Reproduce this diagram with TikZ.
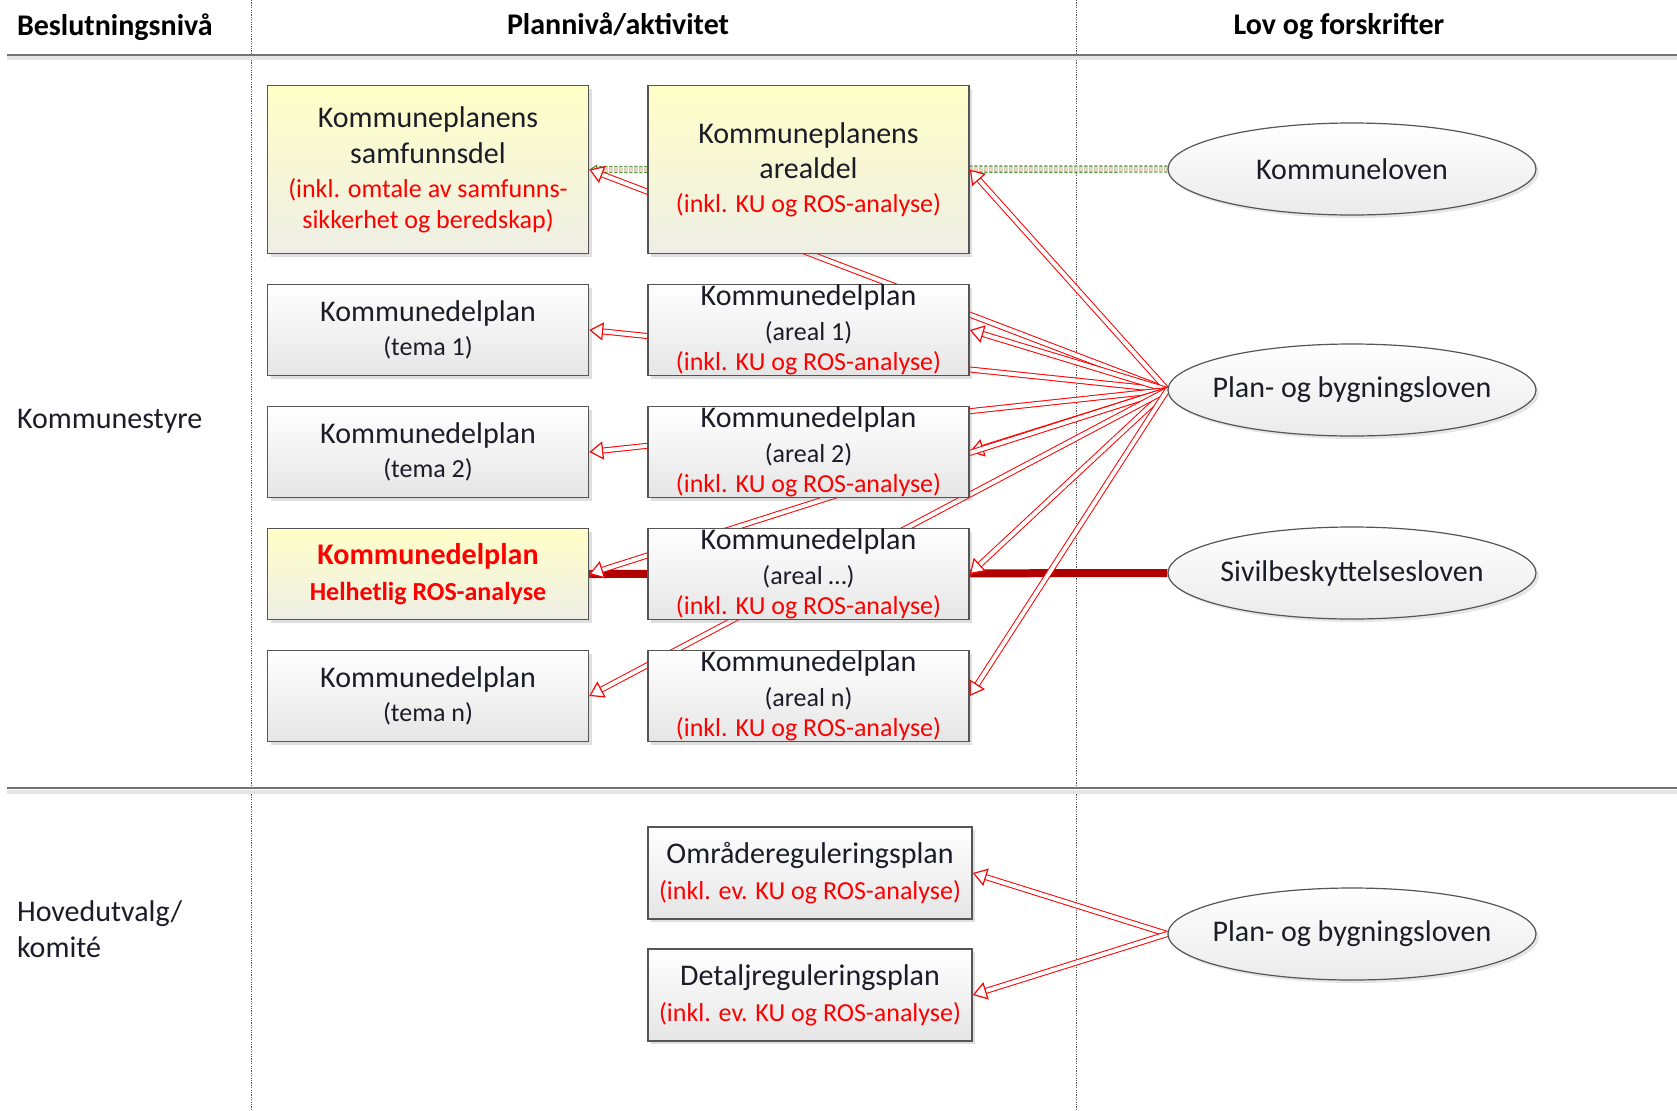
\documentclass[tikz,border=0pt]{standalone}
\usepackage{fontspec}
\setmainfont{Carlito}
\usetikzlibrary{arrows.meta,shapes.geometric,shadows,backgrounds}
\definecolor{kant}{RGB}{85,85,85}
\definecolor{tekst}{RGB}{28,28,40}
\definecolor{mork}{RGB}{176,0,0}
\definecolor{gronn}{RGB}{70,150,55}
\definecolor{rosa}{RGB}{245,212,198}
\definecolor{gultopp}{RGB}{255,255,200}
\definecolor{gulbunn}{RGB}{238,238,230}
\newcommand{\merk}[1]{{\color{red}\fontsize{13}{15}\selectfont #1}}
\newcommand{\liten}[1]{{\fontsize{13}{15}\selectfont #1}}
\tikzset{
  boks/.style={draw=kant, line width=0.7pt, top color=white, bottom color=black!10,
    minimum width=160.5pt, minimum height=45.5pt, inner xsep=2pt, inner ysep=0pt, align=center,
    text=tekst, font=\fontsize{15}{18}\selectfont,
    drop shadow={shadow xshift=1.5pt, shadow yshift=-1.5pt, opacity=0.25}},
  gul/.style={boks, top color=gultopp, bottom color=gulbunn},
  lov/.style={ellipse, draw=kant, line width=0.6pt, top color=white, bottom color=black!8,
    minimum width=184pt, minimum height=46pt, inner xsep=-30pt, inner ysep=0pt,
    text=tekst, font=\fontsize{15}{18}\selectfont,
    drop shadow={shadow xshift=1.5pt, shadow yshift=-1.5pt, opacity=0.2}},
  tittel/.style={font=\bfseries\fontsize{15}{18}\selectfont, text=black},
  pil/.style={draw=red, line width=0.5pt, double=white, double distance=2pt,
    -{Triangle[open, fill=white, length=7pt, width=9pt, line width=0.6pt]}},
  klpil/.style={draw=gronn, line width=0.6pt, dash pattern=on 1.5pt off 1pt,
    double=rosa, double distance=2.5pt, -{Triangle[open, length=4pt, width=5pt]}},
  sblinje/.style={draw=mork, line width=4pt},
  kol/.style={draw=black!65, line width=0.4pt, dash pattern=on 0.6pt off 0.6pt},
  rad/.style={draw=black!55, line width=1pt}
}
\begin{document}
\begin{tikzpicture}[x=0.5pt,y=-0.5pt]
\useasboundingbox (0,0) rectangle (1677,1110);
\node[tittel, anchor=west] (hniva) at (10,27) {Beslutningsnivå};
\node[tittel] (hplan) at (618,24.5) {Plannivå/aktivitet};
\node[tittel] (hlov) at (1339,26.5) {Lov og forskrifter};
\node[anchor=west, text=tekst, font=\fontsize{15}{18}\selectfont] (kstyre) at (10,421) {Kommunestyre};
\node[anchor=west, align=left, text=tekst, font=\fontsize{15}{18}\selectfont] (hutv) at (10,929) {Hovedutvalg/\\komité};

\node[gul, minimum height=84pt] (samf) at (428,169.5) {Kommuneplanens\\samfunnsdel\\[-1pt]\merk{(inkl. omtale av samfunns-}\\[-2.5pt]\merk{sikkerhet og beredskap)}};
\node[gul, minimum height=84pt] (areal0) at (808.5,169.5) {Kommuneplanens\\[-0.5pt]arealdel\\[-1pt]\merk{(inkl. KU og ROS-analyse)}};
\node[boks] (tema1) at (428,330) {Kommunedelplan\\[-1pt]\liten{(tema 1)}};
\node[boks] (areal1) at (808.5,330) {Kommunedelplan\\[-0.5pt]\liten{(areal 1)}\\[-3pt]\merk{(inkl. KU og ROS-analyse)}};
\node[boks] (tema2) at (428,452) {Kommunedelplan\\[-1pt]\liten{(tema 2)}};
\node[boks] (areal2) at (808.5,452) {Kommunedelplan\\[-0.5pt]\liten{(areal 2)}\\[-3pt]\merk{(inkl. KU og ROS-analyse)}};
\node[gul, text=red, font=\bfseries\fontsize{15}{18}\selectfont] (ros) at (428,574) {Kommunedelplan\\\liten{Helhetlig ROS-analyse}};
\node[boks] (areal3) at (808.5,574) {Kommunedelplan\\[-0.5pt]\liten{(areal \dots)}\\[-3pt]\merk{(inkl. KU og ROS-analyse)}};
\node[boks] (teman) at (428,696) {Kommunedelplan\\[-1pt]\liten{(tema n)}};
\node[boks] (arealn) at (808.5,696) {Kommunedelplan\\[-0.5pt]\liten{(areal n)}\\[-3pt]\merk{(inkl. KU og ROS-analyse)}};
\node[boks, minimum width=162pt, minimum height=46pt] (omr) at (810,873) {Områdereguleringsplan\\\merk{(inkl. ev. KU og ROS-analyse)}};
\node[boks, minimum width=162pt, minimum height=46pt] (detalj) at (810,995) {Detaljreguleringsplan\\\merk{(inkl. ev. KU og ROS-analyse)}};

\node[lov] (kl) at (1352,169) {Kommuneloven};
\node[lov] (pbl) at (1352,390) {Plan- og bygningsloven};
\node[lov] (sivil) at (1352,573) {Sivilbeskyttelsesloven};
\node[lov] (pbl2) at (1352,934) {Plan- og bygningsloven};

\begin{scope}[on background layer]
\draw[kol] (251,0) -- (251,1110);
\draw[kol] (1076,0) -- (1076,1110);
\draw[black!10, line width=2pt] (7,58) -- (1677,58);
\draw[rad] (7,54.5) -- (1677,54.5);
\draw[black!10, line width=2pt] (7,791.5) -- (1677,791.5);
\draw[rad] (7,788) -- (1677,788);
\draw[klpil] (kl.west) -- (samf.east);
\draw[sblinje] (sivil.west) -- (ros.east);
\foreach \m in {samf,areal0,tema1,areal1,tema2,areal2,ros,areal3,teman,arealn}
  \draw[pil] (pbl.west) -- (\m.east);
\draw[pil] (pbl2.west) -- (omr.east);
\draw[pil] (pbl2.west) -- (detalj.east);
\end{scope}
\end{tikzpicture}
\end{document}
